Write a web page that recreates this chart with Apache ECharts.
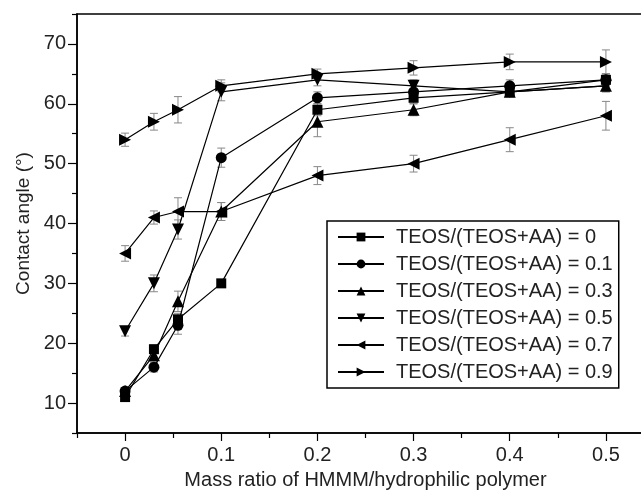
<!DOCTYPE html>
<html>
<head>
<meta charset="utf-8">
<script src="https://cdn.jsdelivr.net/npm/echarts@6/dist/echarts.min.js"></script>
<style>
  html, body { margin: 0; padding: 0; background: #fff; }
  #chart { width: 641px; height: 490px; }
</style>
</head>
<body>
<div id="chart"></div>
<script>
/* x 位置（质量比） */
var massRatio = [0, 0.03, 0.055, 0.1, 0.2, 0.3, 0.4, 0.5];
/* 图例名称 */
var seriesNames = [
    'TEOS/(TEOS+AA) = 0',
    'TEOS/(TEOS+AA) = 0.1',
    'TEOS/(TEOS+AA) = 0.3',
    'TEOS/(TEOS+AA) = 0.5',
    'TEOS/(TEOS+AA) = 0.7',
    'TEOS/(TEOS+AA) = 0.9'
];
/* 接触角 */
var angle00 = [11, 19, 24, 30, 59, 61, 62, 64];
var angle01 = [12, 16, 23, 51, 61, 62, 63, 64];
var angle03 = [12, 18, 27, 42, 57, 59, 62, 63];
var angle05 = [22, 30, 39, 62, 64, 63, 62, 63];
var angle07 = [35, 41, 42, 42, 48, 50, 54, 58];
var angle09 = [54, 57, 59, 63, 65, 66, 67, 67];
/* 误差 (±) */
var err00 = [0.6, 0.7, 1.0, 0.6, 1.0, 1.0, 0.8, 1.0];
var err01 = [0.6, 0.8, 1.5, 1.6, 1.0, 1.0, 1.0, 1.0];
var err03 = [0.6, 1.0, 1.7, 1.5, 2.5, 1.0, 0.8, 1.0];
var err05 = [0.8, 1.4, 1.6, 1.5, 1.0, 1.0, 0.8, 1.0];
var err07 = [1.3, 1.1, 2.3, 1.5, 1.5, 1.4, 2.0, 2.4];
var err09 = [1.1, 1.4, 2.2, 1.0, 0.8, 1.2, 1.3, 2.0];
/* 刻度 */
var xMajorTicks = [0, 0.1, 0.2, 0.3, 0.4, 0.5];
var xMinorTicks = [-0.05, 0.05, 0.15, 0.25, 0.35, 0.45];
var yMajorTicks = [10, 20, 30, 40, 50, 60, 70];
var yMinorTicks = [5, 15, 25, 35, 45, 55, 65, 75];

var valueSets = [angle00, angle01, angle03, angle05, angle07, angle09];
var errSets = [err00, err01, err03, err05, err07, err09];
var symbols = ['rect', 'circle', 'triangle', 'triangle', 'triangle', 'triangle'];
var rotates = [0, 0, 0, 180, 90, -90];
var sizes = [10, 11, 12, 12, 12, 12];

var FONT = 'Liberation Sans';
var TXT = '#222';

var series = [];
/* 误差线 */
for (var i = 0; i < valueSets.length; i++) {
    var rows = [];
    for (var j = 0; j < massRatio.length; j++) {
        rows.push([massRatio[j], valueSets[i][j] - errSets[i][j], valueSets[i][j] + errSets[i][j]]);
    }
    series.push({
        type: 'custom',
        silent: true,
        z: 1,
        encode: { x: 0, y: [1, 2] },
        data: rows,
        renderItem: function (params, api) {
            var lo = api.coord([api.value(0), api.value(1)]);
            var hi = api.coord([api.value(0), api.value(2)]);
            var w = 4;
            var st = { stroke: '#888', lineWidth: 1 };
            return {
                type: 'group',
                children: [
                    { type: 'line', shape: { x1: lo[0], y1: lo[1], x2: hi[0], y2: hi[1] }, style: st },
                    { type: 'line', shape: { x1: lo[0] - w, y1: lo[1], x2: lo[0] + w, y2: lo[1] }, style: st },
                    { type: 'line', shape: { x1: hi[0] - w, y1: hi[1], x2: hi[0] + w, y2: hi[1] }, style: st }
                ]
            };
        }
    });
}
/* 折线 */
for (var k = 0; k < valueSets.length; k++) {
    var pts = [];
    for (var m = 0; m < massRatio.length; m++) {
        pts.push([massRatio[m], valueSets[k][m]]);
    }
    series.push({
        name: seriesNames[k],
        type: 'line',
        z: 3,
        data: pts,
        symbol: symbols[k],
        symbolSize: sizes[k],
        symbolRotate: rotates[k],
        showAllSymbol: true,
        lineStyle: { color: '#000', width: 1.2 },
        itemStyle: { color: '#000' },
        emphasis: { disabled: true },
        animation: false
    });
}

var myChart = echarts.init(document.getElementById('chart'));
var option = {
    animation: false,
    grid: {
        left: 77, top: 14, right: -13, bottom: 57,
        outerBoundsMode: 'none',
        containLabel: false,
        show: true, borderColor: '#000', borderWidth: 1.5
    },
    legend: {
        data: seriesNames,
        orient: 'vertical',
        left: 327, top: 221,
        padding: [6, 6, 6, 10],
        itemWidth: 46, itemHeight: 11, itemGap: 7,
        borderColor: '#000', borderWidth: 1.5,
        textStyle: { fontFamily: FONT, fontSize: 20, color: TXT, padding: [0, 0, 0, 7] }
    },
    xAxis: [
        {
            type: 'value', min: -0.05, max: 0.55,
            name: 'Mass ratio of HMMM/hydrophilic polymer',
            nameLocation: 'middle', nameGap: 37,
            nameTextStyle: { fontFamily: FONT, fontSize: 20, color: TXT },
            splitLine: { show: false },
            axisLine: { onZero: false, lineStyle: { color: '#000', width: 1.5 } },
            axisTick: { inside: false, length: 8, customValues: xMajorTicks, lineStyle: { color: '#000', width: 1.2 } },
            axisLabel: { customValues: xMajorTicks, margin: 12, fontFamily: FONT, fontSize: 20, color: TXT }
        },
        {
            type: 'value', min: -0.05, max: 0.55, position: 'bottom',
            splitLine: { show: false },
            axisLine: { show: false, onZero: false },
            axisTick: { length: 5, customValues: xMinorTicks, lineStyle: { color: '#000', width: 1.2 } },
            axisLabel: { show: false }
        }
    ],
    yAxis: [
        {
            type: 'value', min: 5, max: 75,
            name: 'Contact angle (°)',
            nameLocation: 'middle', nameGap: 44,
            nameTextStyle: { fontFamily: FONT, fontSize: 19, color: TXT },
            splitLine: { show: false },
            axisLine: { onZero: false, lineStyle: { color: '#000', width: 1.5 } },
            axisTick: { length: 9, customValues: yMajorTicks, lineStyle: { color: '#000', width: 1.2 } },
            axisLabel: { customValues: yMajorTicks, margin: 11, fontFamily: FONT, fontSize: 20, color: TXT }
        },
        {
            type: 'value', min: 5, max: 75, position: 'left',
            splitLine: { show: false },
            axisLine: { show: false, onZero: false },
            axisTick: { length: 5, customValues: yMinorTicks, lineStyle: { color: '#000', width: 1.2 } },
            axisLabel: { show: false }
        }
    ],
    series: series
};
myChart.setOption(option);
</script>
</body>
</html>
